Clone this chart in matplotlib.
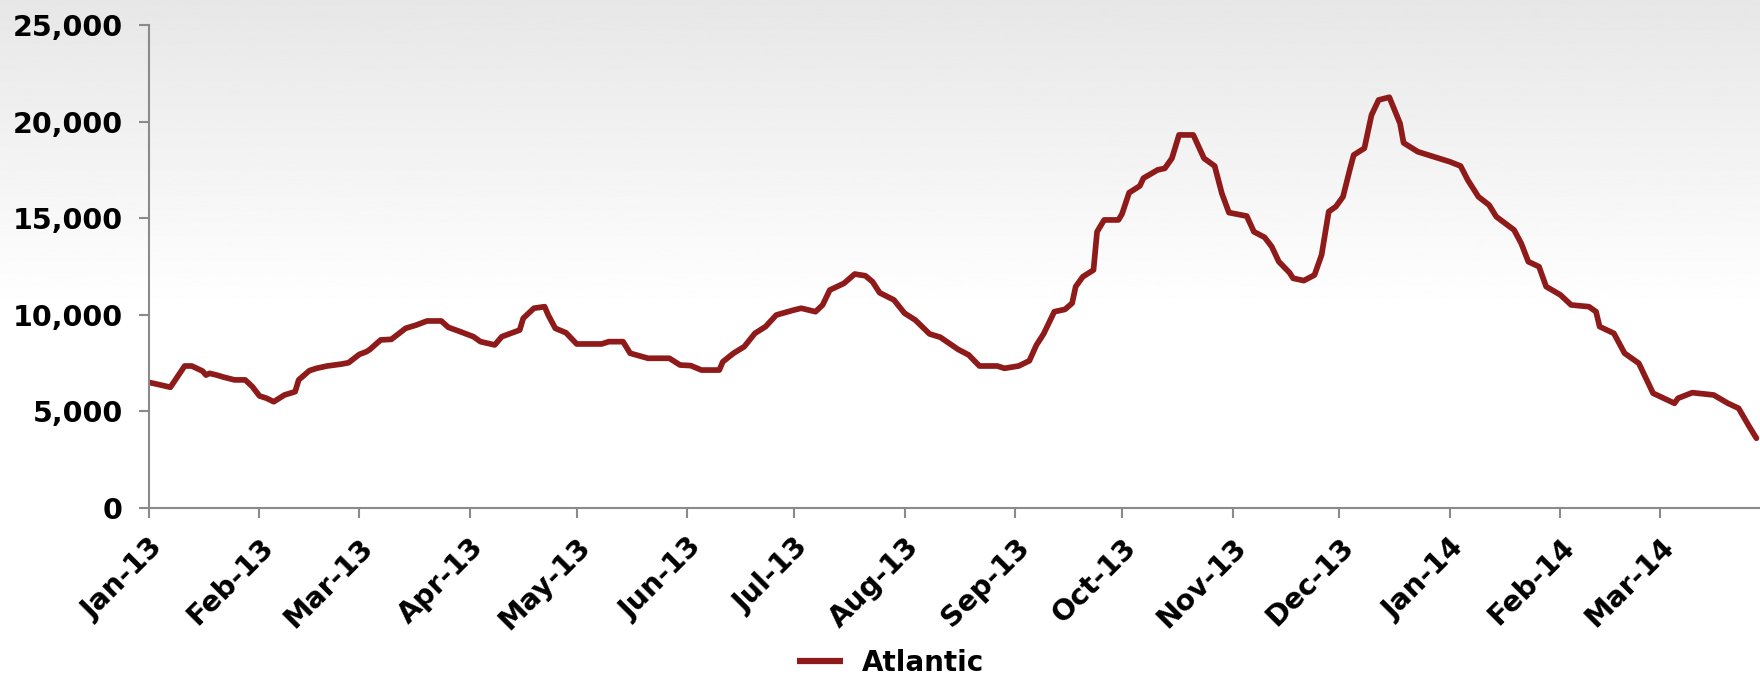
import numpy as np
import pandas as pd
import matplotlib
matplotlib.use("Agg")
import matplotlib.pyplot as plt
import matplotlib.dates as mdates
from matplotlib.ticker import FuncFormatter

# Atlantic series
dates = [
    "2013-01-01", "2013-01-03", "2013-01-07", "2013-01-11", "2013-01-13", "2013-01-16",
    "2013-01-17", "2013-01-18", "2013-01-20", "2013-01-22", "2013-01-25", "2013-01-28",
    "2013-01-30", "2013-02-01", "2013-02-03", "2013-02-05", "2013-02-08", "2013-02-11",
    "2013-02-12", "2013-02-15", "2013-02-17", "2013-02-20", "2013-02-24", "2013-02-26",
    "2013-03-01", "2013-03-03", "2013-03-04", "2013-03-07", "2013-03-10", "2013-03-14",
    "2013-03-17", "2013-03-20", "2013-03-24", "2013-03-26", "2013-03-29", "2013-04-02",
    "2013-04-04", "2013-04-08", "2013-04-10", "2013-04-15", "2013-04-16", "2013-04-19",
    "2013-04-22", "2013-04-23", "2013-04-25", "2013-04-28", "2013-05-01", "2013-05-08",
    "2013-05-10", "2013-05-14", "2013-05-16", "2013-05-21", "2013-05-27", "2013-05-30",
    "2013-06-02", "2013-06-05", "2013-06-10", "2013-06-11", "2013-06-14", "2013-06-17",
    "2013-06-20", "2013-06-23", "2013-06-26", "2013-07-01", "2013-07-03", "2013-07-07",
    "2013-07-09", "2013-07-11", "2013-07-15", "2013-07-18", "2013-07-21", "2013-07-23",
    "2013-07-25", "2013-07-29", "2013-08-01", "2013-08-04", "2013-08-08", "2013-08-11",
    "2013-08-16", "2013-08-19", "2013-08-22", "2013-08-27", "2013-08-29", "2013-09-02",
    "2013-09-05", "2013-09-07", "2013-09-09", "2013-09-12", "2013-09-15", "2013-09-17",
    "2013-09-18", "2013-09-20", "2013-09-23", "2013-09-24", "2013-09-26", "2013-09-30",
    "2013-10-01", "2013-10-03", "2013-10-06", "2013-10-07", "2013-10-11", "2013-10-13",
    "2013-10-15", "2013-10-17", "2013-10-21", "2013-10-24", "2013-10-27", "2013-10-29",
    "2013-10-31", "2013-11-05", "2013-11-07", "2013-11-10", "2013-11-12", "2013-11-14",
    "2013-11-17", "2013-11-18", "2013-11-21", "2013-11-24", "2013-11-26", "2013-11-28",
    "2013-11-30", "2013-12-02", "2013-12-04", "2013-12-05", "2013-12-08", "2013-12-10",
    "2013-12-12", "2013-12-15", "2013-12-18", "2013-12-19", "2013-12-23", "2014-01-01",
    "2014-01-04", "2014-01-06", "2014-01-09", "2014-01-12", "2014-01-14", "2014-01-19",
    "2014-01-21", "2014-01-23", "2014-01-26", "2014-01-28", "2014-02-01", "2014-02-04",
    "2014-02-09", "2014-02-11", "2014-02-12", "2014-02-16", "2014-02-19", "2014-02-23",
    "2014-02-27", "2014-03-02", "2014-03-05", "2014-03-06", "2014-03-10", "2014-03-16",
    "2014-03-20", "2014-03-23", "2014-03-26", "2014-03-28",
]
atlantic = [
    6500, 6420, 6250, 7350, 7350, 7090,
    6880, 6970, 6880, 6770, 6630, 6630,
    6280, 5800, 5680, 5500, 5850, 6020,
    6630, 7110, 7230, 7350, 7450, 7520,
    7950, 8090, 8210, 8700, 8730, 9300,
    9470, 9680, 9680, 9350, 9150, 8870,
    8610, 8440, 8870, 9210, 9820, 10340,
    10420, 9990, 9300, 9070, 8490, 8490,
    8610, 8610, 8010, 7750, 7750, 7400,
    7370, 7140, 7140, 7570, 8010, 8350,
    9040, 9390, 9990, 10250, 10340, 10160,
    10510, 11280, 11630, 12110, 12020, 11710,
    11140, 10770, 10080, 9730, 9010, 8840,
    8210, 7920, 7350, 7350, 7230, 7350,
    7620, 8440, 9010, 10160, 10280, 10600,
    11460, 11970, 12320, 14300, 14910, 14910,
    15220, 16320, 16670, 17070, 17500, 17580,
    18100, 19310, 19310, 18100, 17700, 16290,
    15290, 15110, 14300, 14010, 13530, 12750,
    12180, 11890, 11770, 12060, 13100, 15340,
    15600, 16110, 17580, 18270, 18620, 20340,
    21120, 21260, 19910, 18900, 18440, 17920,
    17700, 16980, 16110, 15680, 15080, 14390,
    13700, 12750, 12490, 11460, 11030, 10510,
    10420, 10160, 9390, 9040, 8010, 7490,
    5940, 5680, 5420, 5680, 5970, 5850,
    5420, 5160, 4210, 3610,
]
series_name = "Atlantic"
y_ticks = [0, 5000, 10000, 15000, 20000, 25000]

line_color = "#8f1a1a"
axis_grey = "#8a8a8a"
plt.rcParams["font.family"] = ["DejaVu Sans"]
plt.rcParams["font.weight"] = "bold"

x = pd.to_datetime(dates)

fig = plt.figure(figsize=(17.6, 6.78), dpi=100)

# grey-to-white vertical gradient behind everything
bg = fig.add_axes([0, 0, 1, 1], zorder=-10)
grad = np.clip(np.linspace(0, 1, 400) / 0.46, 0, 1)
shade = 0.905 + 0.095 * grad
bg.imshow(shade[:, None], aspect="auto", cmap="gray", vmin=0, vmax=1,
          extent=[0, 1, 1, 0], interpolation="bilinear")
bg.set_axis_off()

ax = fig.add_axes([149 / 1760, 1 - 508 / 678, 1 - 149 / 1760, (508 - 25) / 678])
ax.patch.set_alpha(0)

ax.plot(x, atlantic, color=line_color, lw=4.1, solid_joinstyle="round",
        solid_capstyle="round", label=series_name)

ax.set_ylim(0, 25000)
ax.set_yticks(y_ticks)
ax.yaxis.set_major_formatter(FuncFormatter(lambda v, p: f"{v:,.0f}"))
ax.set_xlim(pd.Timestamp("2013-01-01"), pd.Timestamp("2014-03-29"))
ax.xaxis.set_major_locator(mdates.MonthLocator())
ax.xaxis.set_major_formatter(mdates.DateFormatter("%b-%y"))

for s in ["top", "right"]:
    ax.spines[s].set_visible(False)
for s in ["left", "bottom"]:
    ax.spines[s].set_color(axis_grey)
    ax.spines[s].set_linewidth(1.5)

ax.tick_params(axis="both", colors=axis_grey, length=7, width=1.5,
               labelsize=20.5, labelcolor="black")
ax.tick_params(axis="y", pad=12)
ax.tick_params(axis="x", pad=11)
for lab in ax.get_xticklabels():
    lab.set_rotation(45)
    lab.set_ha("right")
    lab.set_rotation_mode("anchor")
    lab.set_fontweight("bold")
for lab in ax.get_yticklabels():
    lab.set_fontweight("bold")

leg = fig.legend(loc="center", bbox_to_anchor=(0.506, 0.022), frameon=False,
                 fontsize=20, handlelength=1.65, handletextpad=0.7)
for h in leg.get_lines():
    h.set_linewidth(4.5)
    h.set_solid_capstyle("butt")
for t in leg.get_texts():
    t.set_fontweight("bold")

fig.savefig("out.png", dpi=100)
